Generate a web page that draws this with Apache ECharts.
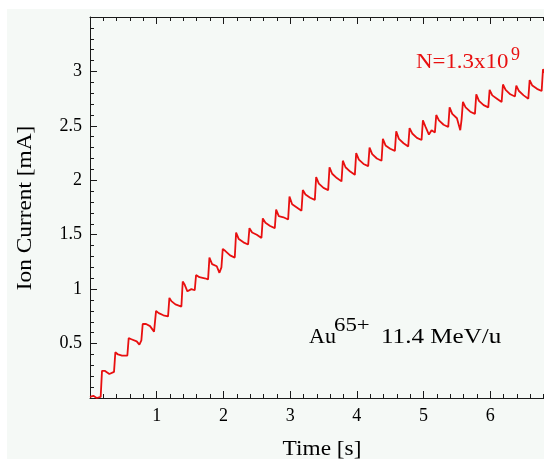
<!DOCTYPE html>
<html>
<head>
<meta charset="utf-8">
<script src="https://cdn.jsdelivr.net/npm/echarts@6/dist/echarts.min.js"></script>
<style>html,body{margin:0;padding:0;background:#fff}#c{width:544px;height:459px}</style>
</head>
<body>
<div id="c"></div>
<script>
// ---- data ----
const timeS = [
  0.00, 0.05, 0.10, 0.16,
  0.17, 0.18, 0.22, 0.29, 0.36,
  0.37, 0.38, 0.42, 0.48, 0.56,
  0.57, 0.58, 0.62, 0.70, 0.74, 0.77,
  0.78, 0.79, 0.84, 0.90, 0.96,
  0.98, 0.99, 1.03, 1.10, 1.17,
  1.18, 1.19, 1.22, 1.28, 1.37,
  1.38, 1.39, 1.42, 1.46, 1.52, 1.57,
  1.58, 1.59, 1.64, 1.72, 1.77,
  1.78, 1.79, 1.83, 1.90, 1.94, 1.97,
  1.98, 1.99, 2.03, 2.10, 2.17,
  2.18, 2.19, 2.23, 2.30, 2.37,
  2.38, 2.39, 2.43, 2.50, 2.57,
  2.58, 2.59, 2.63, 2.70, 2.77,
  2.78, 2.79, 2.83, 2.90, 2.97,
  2.98, 2.99, 3.03, 3.10, 3.17,
  3.18, 3.19, 3.23, 3.30, 3.37,
  3.38, 3.39, 3.43, 3.50, 3.57,
  3.58, 3.59, 3.63, 3.70, 3.77,
  3.78, 3.79, 3.83, 3.90, 3.97,
  3.98, 3.99, 4.03, 4.10, 4.17,
  4.18, 4.19, 4.23, 4.30, 4.37,
  4.38, 4.39, 4.43, 4.50, 4.57,
  4.58, 4.59, 4.63, 4.70, 4.77,
  4.78, 4.79, 4.83, 4.90, 4.97,
  4.98, 4.99, 5.03, 5.08, 5.12, 5.17,
  5.18, 5.19, 5.23, 5.30, 5.37,
  5.38, 5.39, 5.43, 5.50, 5.55, 5.57,
  5.58, 5.59, 5.63, 5.70, 5.77,
  5.78, 5.79, 5.83, 5.90, 5.97,
  5.98, 5.99, 6.03, 6.10, 6.17,
  6.18, 6.19, 6.23, 6.30, 6.37,
  6.38, 6.39, 6.43, 6.50, 6.57,
  6.58, 6.59, 6.63, 6.70, 6.77,
  6.78, 6.79, 6.83, 6.90
];
const currentMA = [
  0.01, 0.02, 0.00, 0.01,
  0.01, 0.25, 0.25, 0.22, 0.24,
  0.24, 0.42, 0.40, 0.39, 0.39,
  0.39, 0.55, 0.54, 0.52, 0.49, 0.53,
  0.53, 0.68, 0.68, 0.66, 0.61,
  0.61, 0.80, 0.78, 0.76, 0.75,
  0.75, 0.92, 0.89, 0.86, 0.84,
  0.84, 1.07, 1.04, 0.98, 1.00, 0.99,
  0.99, 1.13, 1.11, 1.10, 1.09,
  1.09, 1.29, 1.23, 1.21, 1.15, 1.20,
  1.20, 1.37, 1.35, 1.31, 1.29,
  1.29, 1.52, 1.46, 1.43, 1.41,
  1.41, 1.56, 1.52, 1.50, 1.47,
  1.47, 1.65, 1.61, 1.58, 1.56,
  1.56, 1.73, 1.67, 1.66, 1.64,
  1.64, 1.85, 1.78, 1.75, 1.72,
  1.72, 1.91, 1.87, 1.84, 1.82,
  1.82, 2.03, 1.97, 1.93, 1.91,
  1.91, 2.12, 2.06, 2.02, 1.99,
  1.99, 2.18, 2.12, 2.08, 2.05,
  2.05, 2.25, 2.19, 2.15, 2.13,
  2.13, 2.30, 2.24, 2.20, 2.18,
  2.18, 2.38, 2.32, 2.29, 2.27,
  2.27, 2.45, 2.38, 2.34, 2.31,
  2.31, 2.48, 2.43, 2.39, 2.37,
  2.37, 2.55, 2.49, 2.42, 2.46, 2.44,
  2.44, 2.60, 2.55, 2.51, 2.49,
  2.49, 2.67, 2.61, 2.57, 2.46, 2.56,
  2.56, 2.72, 2.67, 2.63, 2.61,
  2.61, 2.79, 2.73, 2.69, 2.67,
  2.67, 2.83, 2.78, 2.75, 2.72,
  2.72, 2.88, 2.83, 2.79, 2.77,
  2.77, 2.87, 2.82, 2.78, 2.75,
  2.75, 2.92, 2.87, 2.84, 2.82,
  2.82, 3.02, 2.97, 2.94
];
const xTicks = { min: 0, max: 7, step: 1 };
const yTicks = { min: 0, max: 3.5, step: 0.5 };
const xTitle = 'Time [s]';
const yTitle = 'Ion Current [mA]';
const noteN = 'N=1.3x10';
const noteNExp = '9';
const noteIon = 'Au';
const noteIonCharge = '65+';
const noteEnergy = '11.4 MeV/u';

// ---- chart ----
const seriesData = timeS.map((t, i) => [t, currentMA[i]]);
const serif = '"Liberation Serif", "Times New Roman", serif';
const axisCol = '#1a1a1a';
const red = '#e81010';

const chart = echarts.init(document.getElementById('c'), null, { renderer: 'canvas' });
const baseTick = { show: true, inside: true, length: 7, lineStyle: { color: axisCol, width: 1 } };
const minor = { show: true, splitNumber: 5, length: 4, lineStyle: { color: axisCol, width: 1 } };

chart.setOption({
  backgroundColor: '#ffffff',
  animation: false,
  grid: { left: 90, top: 17, width: 467, bottom: 61, containLabel: false, outerBoundsMode: 'none' },
  xAxis: [{
    type: 'value', min: xTicks.min, max: xTicks.max, interval: xTicks.step,
    position: 'bottom',
    axisLine: { show: true, onZero: false, lineStyle: { color: axisCol, width: 1 } },
    axisTick: baseTick, minorTick: minor, splitLine: { show: false },
    axisLabel: { show: true, margin: 9, color: '#000', fontFamily: serif, fontSize: 18,
      formatter: v => (v === 0 || v === 7 ? '' : String(v)) }
  }, {
    type: 'value', min: xTicks.min, max: xTicks.max, interval: xTicks.step,
    position: 'top',
    axisLine: { show: true, onZero: false, lineStyle: { color: axisCol, width: 1 } },
    axisTick: baseTick, minorTick: minor, splitLine: { show: false },
    axisLabel: { show: false }
  }],
  yAxis: [{
    type: 'value', min: yTicks.min, max: yTicks.max, interval: yTicks.step,
    axisLine: { show: true, onZero: false, lineStyle: { color: axisCol, width: 1 } },
    axisTick: baseTick, minorTick: minor, splitLine: { show: false },
    axisLabel: { show: true, margin: 8, color: '#000', fontFamily: serif, fontSize: 18,
      formatter: v => (v === 0 || v === 3.5 ? '' : String(v)) }
  }],
  series: [{
    type: 'line', xAxisIndex: 0, yAxisIndex: 0, data: seriesData,
    showSymbol: false, symbol: 'none', clip: true,
    lineStyle: { color: red, width: 1.8 }
  }],
  graphic: [
    { type: 'rect', z: -10, silent: true, shape: { x: 7, y: 9, width: 540, height: 452 },
      style: { fill: '#f5f9f6' } },
    { type: 'text', x: 322, y: 449, scaleX: 1.06, silent: true,
      style: { text: xTitle, font: '22px ' + serif, fill: '#000', align: 'center', verticalAlign: 'middle' } },
    { type: 'text', x: 25, y: 208, rotation: Math.PI / 2, scaleX: 1.06, silent: true,
      style: { text: yTitle, font: '22px ' + serif, fill: '#000', align: 'center', verticalAlign: 'middle' } },
    { type: 'text', x: 416, y: 62, scaleX: 1.04, silent: true,
      style: { text: noteN, font: '22px ' + serif, fill: red, align: 'left', verticalAlign: 'middle' } },
    { type: 'text', x: 511, y: 55, silent: true,
      style: { text: noteNExp, font: '18px ' + serif, fill: red, align: 'left', verticalAlign: 'middle' } },
    { type: 'text', x: 309, y: 337, silent: true,
      style: { text: noteIon, font: '22px ' + serif, fill: '#000', align: 'left', verticalAlign: 'middle' } },
    { type: 'text', x: 334, y: 326, scaleX: 1.2, silent: true,
      style: { text: noteIonCharge, font: '19px ' + serif, fill: '#000', align: 'left', verticalAlign: 'middle' } },
    { type: 'text', x: 381, y: 337, scaleX: 1.14, silent: true,
      style: { text: noteEnergy, font: '22px ' + serif, fill: '#000', align: 'left', verticalAlign: 'middle' } }
  ]
});
</script>
</body>
</html>
